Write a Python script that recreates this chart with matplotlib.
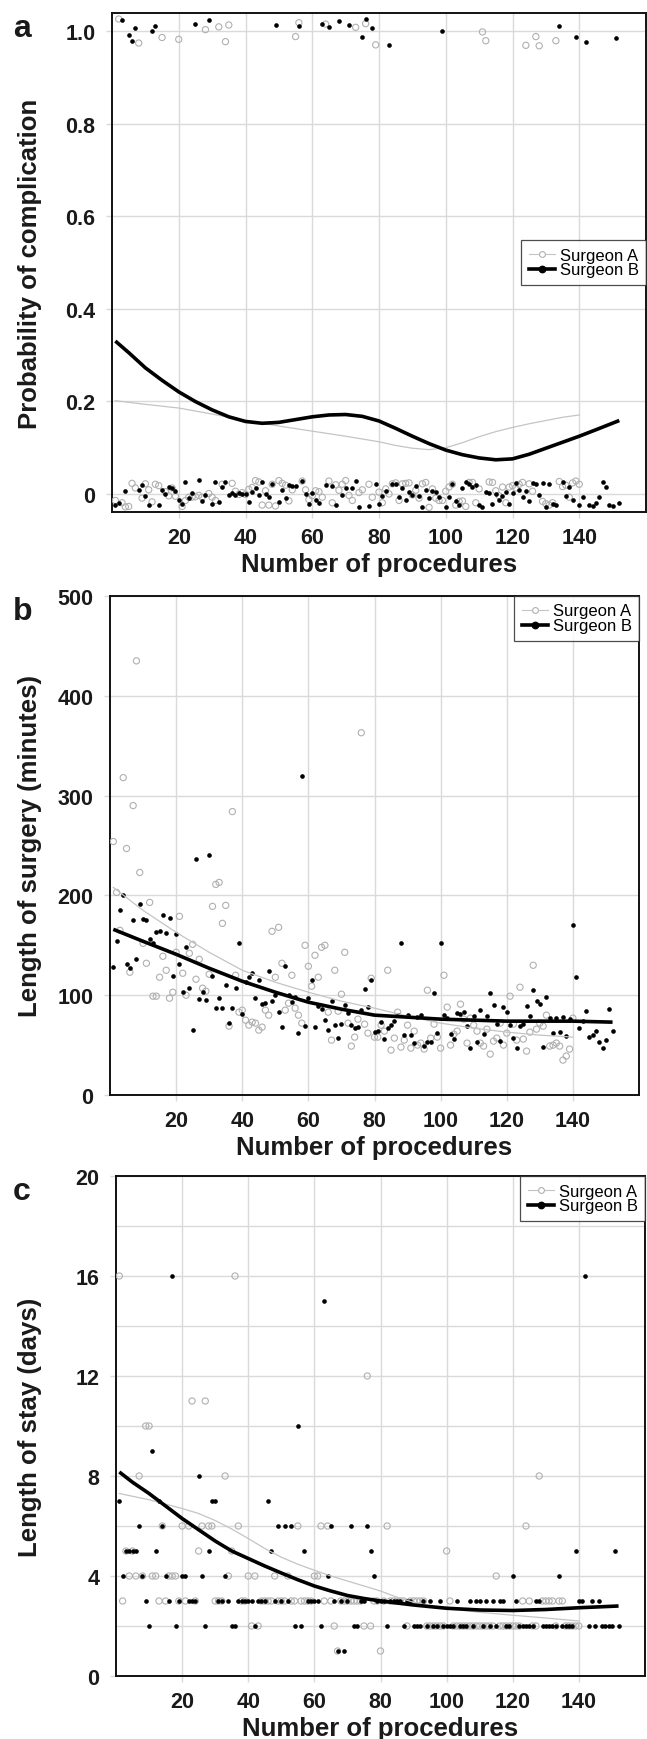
import numpy as np
import matplotlib
matplotlib.use("Agg")
import matplotlib.pyplot as plt
from matplotlib.lines import Line2D

plt.rcParams['font.family'] = ['Liberation Sans', 'DejaVu Sans']

# procedure numbers
n_a = 140
n_b = 152

# panel a: complication (0/1, jittered as drawn)
comp_a = [-0.015, 1.027, -0.020, -0.029, -0.028, 0.022, 0.012, 0.975, -0.010, 0.021,
          0.008, -0.018, 0.020, 0.017, 0.987, 0.004, -0.005, 0.012, -0.006, 0.983,
          -0.028, -0.015, -0.008, -0.008, -0.007, -0.004, -0.008, 1.004, 0.000, -0.008,
          -0.015, 1.010, 0.020, 0.978, 1.014, 0.022, 0.005, -0.002, 0.002, -0.002,
          0.009, 0.013, 0.028, 0.025, -0.025, 0.006, -0.025, 0.020, -0.027, 0.028,
          0.022, 0.018, -0.016, 0.008, 0.989, 1.019, 0.027, 0.008, -0.013, -0.005,
          0.006, 0.004, -0.008, 1.016, 0.027, -0.020, 0.019, 0.007, 0.020, 0.028,
          -0.004, -0.015, 1.009, 0.002, 0.008, 1.017, 0.020, -0.008, 0.971, 0.003,
          -0.020, 0.010, -0.001, 0.021, 0.023, -0.015, 0.021, 0.022, 0.023, -0.003,
          0.007, -0.010, 0.021, 0.024, -0.030, 0.010, -0.010, -0.015, -0.015, 0.005,
          0.014, 0.020, -0.025, -0.017, -0.016, -0.028, 0.024, 0.024, -0.020, 0.010,
          0.999, 0.980, 0.025, 0.024, 0.006, -0.005, 0.014, -0.020, 0.014, 0.017,
          0.012, 0.020, 0.024, 0.970, 0.021, 0.005, 0.989, 0.969, -0.017, -0.022,
          -0.025, -0.020, 0.980, 0.026, 0.015, 0.018, -0.008, 0.023, 0.027, 0.020]
comp_b = [-0.025, -0.020, 1.025, 0.006, 0.992, 0.979, 1.007, 0.008, 0.018, -0.005,
          -0.025, 1.001, 1.011, -0.025, 0.007, -0.001, 0.014, 0.012, 0.005, -0.015,
          -0.022, 0.026, -0.010, 0.002, 1.017, 0.030, -0.017, -0.004, 1.025, -0.022,
          0.024, -0.018, 0.014, 0.026, -0.004, 0.001, -0.003, 0.002, -0.001, 0.000,
          -0.018, 0.004, 0.012, -0.003, 0.026, -0.002, -0.007, 0.020, 1.015, -0.018,
          0.008, -0.010, 0.019, 0.017, 0.017, 1.012, 0.028, -0.001, -0.022, 0.001,
          -0.014, -0.020, 1.016, 0.019, 1.009, 0.017, -0.024, 1.022, -0.004, 0.012,
          1.014, 0.012, 0.027, -0.030, 0.987, 1.027, -0.026, 1.008, 0.020, -0.022,
          -0.005, 0.005, 0.970, 0.020, 0.021, -0.007, 0.012, -0.015, 0.003, -0.003,
          0.017, -0.005, -0.030, 0.007, -0.010, 0.005, 0.004, -0.007, 1.000, -0.030,
          -0.007, 0.020, -0.016, -0.025, 0.011, 0.025, 0.020, 0.014, 0.018, -0.025,
          -0.030, 0.004, 0.002, -0.023, -0.001, -0.013, -0.006, 0.004, -0.023, 0.001,
          0.023, 0.008, -0.008, 0.005, -0.016, 0.023, 0.021, -0.004, 0.022, -0.030,
          0.020, -0.022, -0.025, 1.012, 0.025, -0.005, 0.015, -0.015, 0.987, -0.025,
          -0.007, 0.978, -0.025, -0.027, -0.020, -0.007, 0.025, 0.015, -0.024, -0.028,
          0.986, -0.020]

# panel a: fitted probability curves
fit_a_x = [1, 10, 20, 30, 40, 50, 60, 70, 80, 85, 90, 95, 100, 105, 110, 115, 120,
           125, 130, 135, 140]
fit_a_y = [0.201, 0.193, 0.185, 0.172, 0.158, 0.146, 0.135, 0.124, 0.112, 0.104, 0.098,
           0.095, 0.099, 0.110, 0.123, 0.134, 0.143, 0.151, 0.158, 0.165, 0.170]
fit_b_x = [1, 5, 10, 15, 20, 25, 30, 35, 40, 45, 50, 55, 60, 65, 70, 75, 80, 85, 90, 95,
           100, 105, 110, 115, 120, 125, 130, 135, 140, 145, 152]
fit_b_y = [0.330, 0.305, 0.272, 0.245, 0.220, 0.199, 0.181, 0.166, 0.156, 0.152, 0.154,
           0.160, 0.166, 0.170, 0.171, 0.167, 0.157, 0.141, 0.124, 0.108, 0.094, 0.084,
           0.077, 0.073, 0.075, 0.085, 0.098, 0.111, 0.124, 0.138, 0.158]

# panel b: length of surgery (minutes)
surg_a = [254, 203, 165, 318, 247, 123, 290, 435, 223, 152, 132, 193, 99, 99, 118, 139,
          125, 97, 103, 143, 179, 122, 100, 142, 151, 116, 136, 107, 104, 121, 189, 211,
          213, 172, 190, 69, 284, 120, 83, 85, 75, 70, 73, 72, 65, 68, 85, 80, 164, 118,
          168, 132, 85, 92, 120, 87, 80, 72, 150, 129, 109, 140, 118, 148, 150, 83, 55,
          125, 84, 101, 143, 72, 49, 58, 76, 363, 71, 62, 117, 58, 58, 70, 64, 125, 45,
          57, 83, 48, 55, 70, 47, 64, 50, 52, 46, 105, 57, 71, 58, 47, 120, 88, 50, 61,
          64, 91, 76, 52, 77, 70, 64, 52, 49, 66, 41, 54, 57, 72, 50, 62, 99, 71, 55, 108,
          56, 44, 63, 130, 66, 72, 69, 80, 49, 50, 52, 49, 35, 39, 46, 77]
surg_b = [128, 154, 185, 200, 131, 127, 175, 136, 191, 176, 175, 156, 152, 163, 164, 180,
          162, 177, 119, 161, 131, 103, 148, 107, 65, 236, 96, 103, 95, 240, 119, 87, 97,
          87, 110, 72, 87, 107, 152, 81, 113, 118, 122, 97, 115, 91, 92, 124, 94, 100, 83,
          68, 129, 100, 93, 98, 62, 320, 69, 97, 115, 68, 89, 86, 75, 65, 94, 70, 57, 71,
          90, 82, 70, 67, 68, 85, 106, 88, 115, 63, 64, 73, 56, 67, 70, 74, 80, 152, 60,
          80, 60, 52, 78, 80, 49, 53, 53, 102, 62, 152, 80, 77, 61, 56, 82, 81, 83, 69,
          47, 79, 53, 85, 61, 79, 102, 90, 71, 54, 88, 83, 70, 57, 47, 69, 71, 89, 79, 105,
          94, 91, 48, 98, 77, 62, 77, 63, 78, 59, 76, 170, 118, 67, 74, 84, 58, 60, 64, 53,
          47, 55, 86, 64]
surg_fit_a_x = [1, 10, 20, 30, 40, 50, 60, 70, 80, 90, 100, 110, 120, 130, 140]
surg_fit_a_y = [208, 185, 163, 143, 125, 113, 103, 94, 87, 79, 72, 67, 63, 60, 58]
surg_fit_b_x = [1, 10, 20, 30, 40, 50, 60, 70, 80, 90, 100, 110, 120, 130, 140, 152]
surg_fit_b_y = [166, 154, 141, 127, 114, 103, 93, 86, 80, 78, 76, 75, 74, 74, 74, 73]

# panel c: length of stay (days)
stay_a = [16, 3, 5, 4, 5, 4, 8, 4, 10, 10, 4, 4, 3, 6, 3, 4, 4, 4, 3, 6, 3, 6, 11, 3, 5,
          6, 11, 6, 6, 3, 3, 3, 8, 4, 5, 16, 6, 3, 3, 4, 2, 4, 2, 3, 3, 3, 3, 4, 3, 3, 3,
          4, 3, 3, 6, 3, 3, 3, 3, 4, 4, 6, 3, 6, 3, 2, 1, 3, 3, 3, 3, 3, 3, 3, 2, 12, 2,
          3, 3, 1, 3, 6, 3, 3, 3, 3, 3, 2, 3, 3, 3, 3, 3, 2, 2, 2, 2, 2, 2, 5, 3, 2, 2, 2,
          2, 2, 2, 2, 2, 2, 2, 2, 2, 2, 4, 2, 2, 2, 2, 2, 2, 2, 3, 6, 3, 2, 2, 8, 3, 3, 3,
          3, 2, 3, 3, 2, 2, 2, 2, 2]
stay_b = [7, 4, 5, 5, 5, 5, 6, 4, 3, 2, 9, 5, 7, 6, 4, 3, 16, 2, 3, 4, 4, 3, 3, 3, 8, 4,
          2, 5, 7, 7, 3, 3, 4, 3, 2, 2, 3, 3, 3, 3, 3, 2, 3, 3, 3, 7, 5, 3, 6, 3, 6, 3, 6,
          2, 10, 2, 5, 3, 3, 3, 3, 2, 15, 4, 6, 3, 1, 3, 1, 3, 6, 2, 2, 3, 3, 6, 5, 4, 3,
          3, 3, 2, 3, 3, 3, 3, 2, 3, 3, 2, 2, 2, 3, 2, 3, 2, 2, 3, 2, 2, 2, 2, 3, 2, 2, 2,
          3, 2, 3, 3, 2, 3, 2, 3, 2, 3, 3, 2, 2, 4, 3, 2, 2, 2, 2, 2, 3, 3, 2, 2, 2, 2, 2,
          4, 2, 2, 2, 2, 5, 3, 3, 16, 2, 3, 2, 3, 2, 2, 2, 2, 5, 2]
stay_fit_a_x = [1, 10, 20, 25, 30, 35, 40, 45, 50, 55, 60, 65, 70, 75, 80, 85, 90, 95, 100,
                110, 120, 130, 140]
stay_fit_a_y = [7.3, 7.05, 6.7, 6.5, 6.22, 5.88, 5.5, 5.1, 4.75, 4.47, 4.23, 4.0, 3.8, 3.6,
                3.4, 3.15, 2.95, 2.8, 2.69, 2.55, 2.43, 2.32, 2.2]
stay_fit_b_x = [1, 5, 10, 15, 20, 25, 30, 35, 40, 45, 50, 55, 60, 65, 70, 75, 80, 90, 100,
                110, 120, 130, 140, 152]
stay_fit_b_y = [8.16, 7.75, 7.3, 6.8, 6.3, 5.85, 5.4, 5.0, 4.7, 4.4, 4.12, 3.85, 3.6, 3.4,
                3.22, 3.1, 3.0, 2.84, 2.71, 2.64, 2.62, 2.66, 2.73, 2.8]

W, H = 647, 1740
GREY_PT = '#b0b0b0'
GREY_LN = '#c4c4c4'
GRID = '#dadada'

fig = plt.figure(figsize=(W / 100, H / 100), dpi=100)


def make_axes(left, right, top, bottom):
    return fig.add_axes([left / W, 1 - bottom / H, (right - left) / W, (bottom - top) / H])


def style(ax, ylabel, letter, legend_loc):
    ax.set_xlim(0, 160)
    ax.set_xticks([20, 40, 60, 80, 100, 120, 140])
    ax.grid(True, which='both', color=GRID, lw=1.0, zorder=0)
    ax.set_axisbelow(True)
    for s in ax.spines.values():
        s.set_linewidth(1.4)
        s.set_color('#111111')
    ax.tick_params(axis='both', which='major', direction='out', length=4, width=1,
                   color=GRID, labelsize=15.5, pad=7)
    ax.tick_params(axis='y', which='major', pad=8)
    ax.tick_params(which='minor', length=0)
    for lab in ax.get_xticklabels() + ax.get_yticklabels():
        lab.set_fontweight('bold')
        lab.set_color('#1a1a1a')
    ax.set_xlabel('Number of procedures', fontsize=18.5, fontweight='bold', color='#1a1a1a')
    ax.xaxis.label.set_va('center')
    ax.xaxis.set_label_coords(0.5, -52 / 499)
    ax.set_ylabel(ylabel, fontsize=18.5, fontweight='bold', color='#1a1a1a')
    ax.yaxis.label.set_va('center')
    bb = ax.get_position()
    ax.yaxis.set_label_coords((30 / W - bb.x0) / bb.width, 0.5)
    ax.text((13 / W - bb.x0) / bb.width, 1.0, letter, transform=ax.transAxes,
            fontsize=23, fontweight='bold', ha='left', va='top', color='#1a1a1a')
    handles = [Line2D([], [], color=GREY_LN, lw=0.8, marker='o', ms=4.2, mfc='white',
                      mec=GREY_PT, mew=0.8),
               Line2D([], [], color='black', lw=2.6, marker='o', ms=4.6)]
    leg = ax.legend(handles, ['Surgeon A', 'Surgeon B'], loc=legend_loc, fontsize=12,
                    frameon=True, fancybox=False, borderaxespad=0, borderpad=0.45,
                    labelspacing=0.0, handlelength=1.6, handletextpad=0.25)
    leg.get_frame().set_edgecolor('#222222')
    leg.get_frame().set_linewidth(0.9)


def draw(ax, ya, yb, fax, fay, fbx, fby):
    xa = np.arange(1, n_a + 1)
    xb = np.arange(1, n_b + 1)
    ax.scatter(xa, ya, s=20, facecolors='none', edgecolors=GREY_PT, linewidths=0.8, zorder=3)
    ax.scatter(xb, yb, s=11, color='black', linewidths=0, zorder=4)
    ax.plot(fax, fay, color=GREY_LN, lw=0.9, zorder=5)
    ax.plot(fbx, fby, color='black', lw=2.6, zorder=6, solid_capstyle='butt',
            solid_joinstyle='round')


# panel a
ax1 = make_axes(112, 646, 14, 513)
draw(ax1, comp_a, comp_b, fit_a_x, fit_a_y, fit_b_x, fit_b_y)
ax1.set_ylim(-0.04, 1.04)
ax1.set_yticks([0, 0.2, 0.4, 0.6, 0.8, 1.0])
ax1.set_yticklabels(['0', '0.2', '0.4', '0.6', '0.8', '1.0'])
style(ax1, 'Probability of complication', 'a', 'center right')

# panel b
ax2 = make_axes(110, 639, 597, 1096)
draw(ax2, surg_a, surg_b, surg_fit_a_x, surg_fit_a_y, surg_fit_b_x, surg_fit_b_y)
ax2.set_ylim(0, 500)
ax2.set_yticks([0, 100, 200, 300, 400, 500])
style(ax2, 'Length of surgery (minutes)', 'b', 'upper right')

# panel c
ax3 = make_axes(116, 645, 1177, 1677)
draw(ax3, stay_a, stay_b, stay_fit_a_x, stay_fit_a_y, stay_fit_b_x, stay_fit_b_y)
ax3.set_ylim(0, 20)
ax3.set_yticks([0, 4, 8, 12, 16, 20])
ax3.set_yticks([2, 6, 10, 14, 18], minor=True)
style(ax3, 'Length of stay (days)', 'c', 'upper right')

fig.savefig('out.png', dpi=100)
